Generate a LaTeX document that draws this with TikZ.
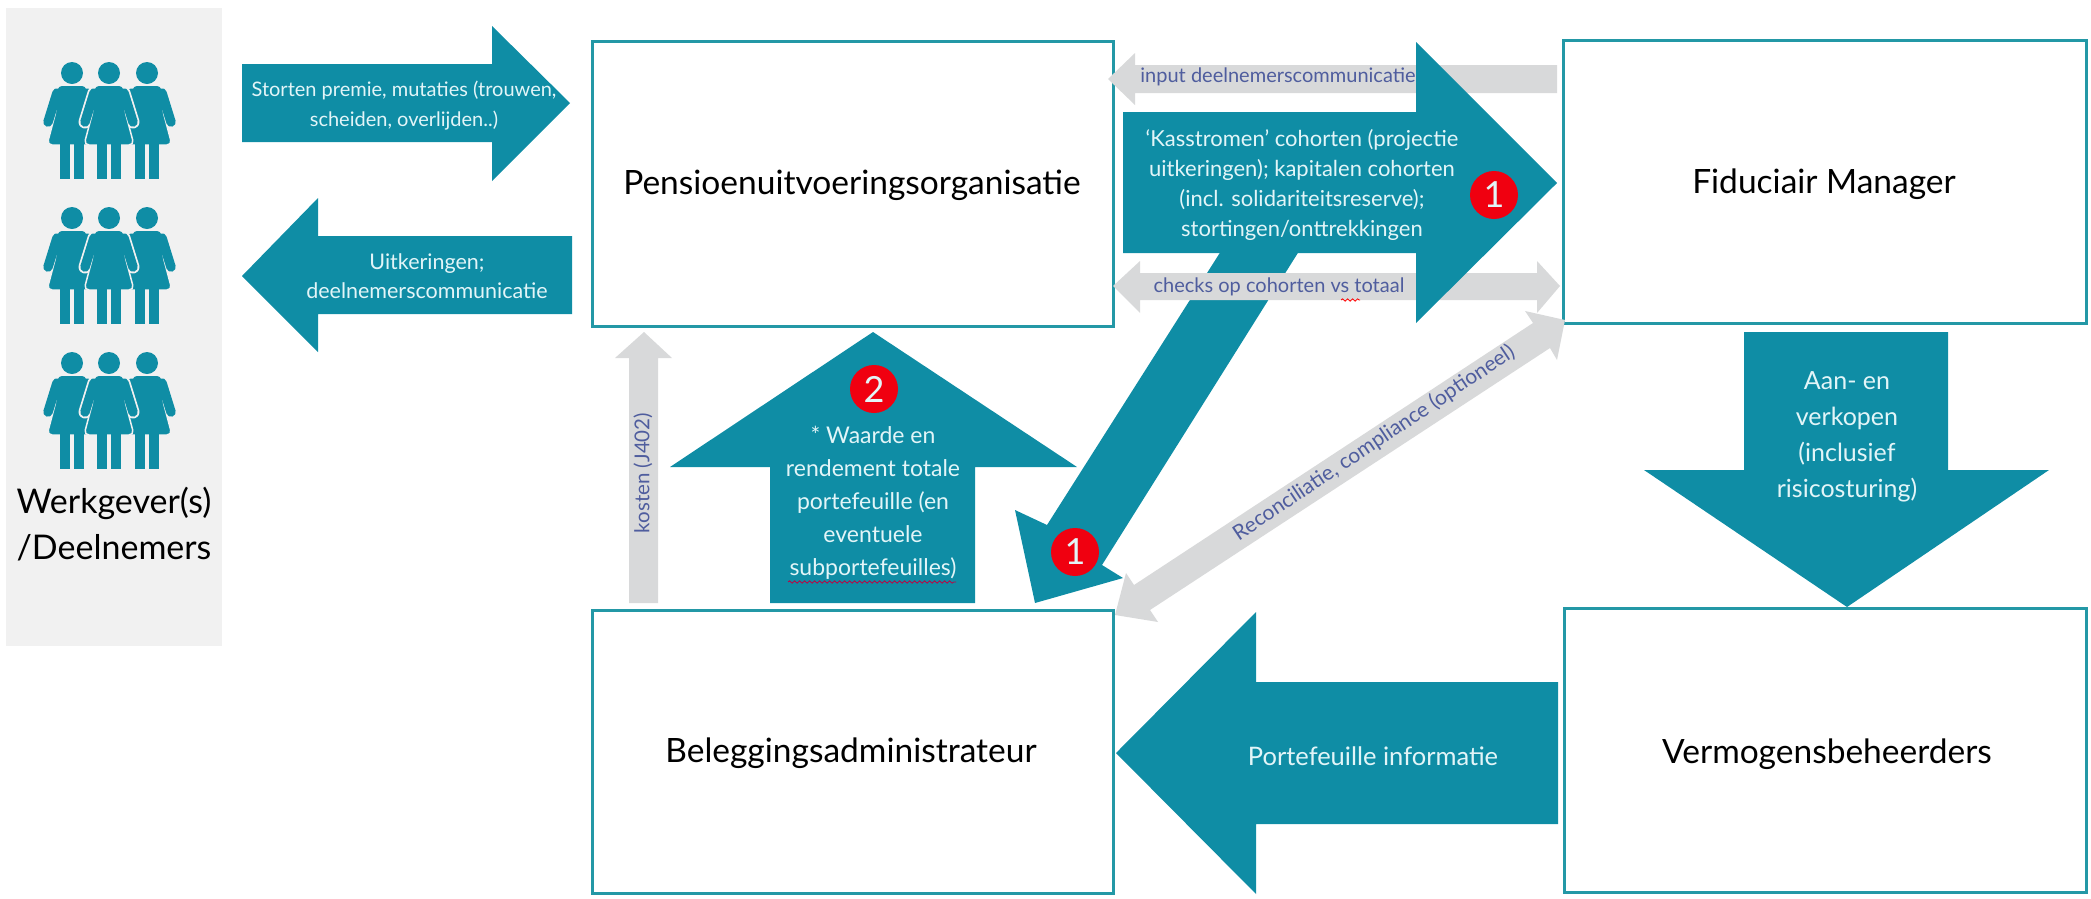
\documentclass[tikz,border=0pt]{standalone}
\usepackage{fontspec}
\setmainfont{Lato}
\usetikzlibrary{decorations.pathmorphing}
\definecolor{tealfill}{HTML}{0F8DA5}
\definecolor{boxline}{HTML}{2398A6}
\definecolor{greyfill}{HTML}{D8D9DA}
\definecolor{panelgrey}{HTML}{F1F1F1}
\definecolor{labelblue}{HTML}{4F5D9E}
\definecolor{lighttext}{HTML}{E2F5F8}
\definecolor{badgered}{HTML}{F00010}
\newcommand{\fs}[2]{\fontsize{#1}{#2}\selectfont}
\tikzset{pics/person/.style={code={
    \draw [panelgrey,line width=13pt,line cap=round] (-15,20) -- (-24,49);
    \draw [panelgrey,line width=13pt,line cap=round] (15,20) -- (24,49);
    \fill [tealfill] (0,0) circle (11);
    \filldraw [fill=tealfill,draw=panelgrey,line width=1.5pt,rounded corners=5pt] (-15,12) -- (15,12) -- (16,38) -- (25,72) -- (-25,72) -- (-16,38) -- cycle;
    \draw [tealfill,line width=9.5pt,line cap=round] (-15,20) -- (-24,49);
    \draw [tealfill,line width=9.5pt,line cap=round] (15,20) -- (24,49);
    \fill [tealfill] (-12,71) rectangle (-2,106);
    \fill [tealfill] (2,71) rectangle (12,106);
}}}
\begin{document}
\begin{tikzpicture}[x=1pt,y=-1pt]
\tikzstyle{every node}+=[inner sep=0pt]
\tikzstyle{blockarrow}=[fill=tealfill]
\tikzstyle{greyarrow}=[fill=greyfill]
\tikzstyle{box}=[draw=boxline,line width=2.5pt,fill=white,anchor=north west]
\tikzstyle{boxtext}=[text=black,font=\fs{33.5}{38}]
\tikzstyle{arrowtext}=[text=lighttext,align=center]
\tikzstyle{greytext}=[text=labelblue,font=\fs{20}{22}]
\tikzstyle{badge}=[circle,fill=badgered,text=lighttext,minimum size=48pt,font=\fs{36}{36}]
\tikzstyle{squiggle}=[line width=0.8pt,decorate,decoration={snake,amplitude=1.2pt,segment length=5pt}]
\useasboundingbox (0,0) rectangle (2091,898);
% left panel
\fill [panelgrey] (6,8) rectangle (222,646);
\foreach \y in {73,218,363} {
    \pic at (72,\y) {person};
    \pic at (147,\y) {person};
    \pic at (109,\y) {person};
}
\node [text=black,align=center,font=\fs{34}{46}] (werkgever) at (114,524) {Werkgever(s)\\/Deelnemers};
% boxes
\node [box,minimum width=521pt,minimum height=285pt] (puo) at (591,40) {};
\node [box,minimum width=523pt,minimum height=283pt] (fm) at (1562,39) {};
\node [box,minimum width=521pt,minimum height=283pt] (ba) at (591,609) {};
\node [box,minimum width=522pt,minimum height=284pt] (vb) at (1563,607) {};
\node [boxtext] (puotext) at (852,185) {Pensioenuitvoeringsorganisatie};
\node [boxtext] (fmtext) at (1824,184) {Fiduciair Manager};
\node [boxtext] (batext) at (851,753) {Beleggingsadministrateur};
\node [boxtext] (vbtext) at (1827,754) {Vermogensbeheerders};
% arrows left
\fill [blockarrow] (242,64) -- (492,64) -- (492,26) -- (570,103) -- (492,181) -- (492,142) -- (242,142) -- cycle;
\fill [blockarrow] (572,236) -- (318,236) -- (318,198) -- (242,276) -- (318,352) -- (318,314) -- (572,314) -- cycle;
\node [arrowtext,font=\fs{20}{30}] (storten) at (404,106) {Storten premie, mutaties (trouwen,\\scheiden, overlijden..)};
\node [arrowtext,font=\fs{21.5}{29}] (uitkering) at (427,276) {Uitkeringen;\\deelnemerscommunicatie};
% grey arrows and big arrows
\fill [greyarrow] (1557,65) -- (1135,65) -- (1135,53) -- (1108,79) -- (1135,105) -- (1135,93) -- (1557,93) -- cycle;
\fill [blockarrow] (1228,240) -- (1306,240) -- (1102,565) -- (1123,578) -- (1035,603) -- (1015,510) -- (1047,525) -- cycle;
\fill [greyarrow] (1113,286) -- (1140,261) -- (1140,273) -- (1537,273) -- (1537,261) -- (1560,286) -- (1537,313) -- (1537,300) -- (1140,300) -- (1140,313) -- cycle;
\fill [blockarrow] (1123,112) -- (1416,112) -- (1416,42) -- (1557,183) -- (1416,323) -- (1416,253) -- (1123,253) -- cycle;
\fill [greyarrow] (1115,615) -- (1126,573) -- (1134,585) -- (1533,323) -- (1525,311) -- (1565,320) -- (1557,360) -- (1550,348) -- (1150,610) -- (1158,622) -- cycle;
\node [greytext] (input) at (1278,77) {input deelnemerscommunicatie};
\node [greytext] (checks) at (1279,287) {checks op cohorten vs totaal};
\draw [red,squiggle] (1341,300) -- (1360,300);
\node [greytext,font=\fs{21}{22},rotate=33.8] (recon) at (1374,443) {Reconciliatie, compliance (optioneel)};
\node [arrowtext,font=\fs{22}{30}] (kasstromen) at (1302,185) {‘Kasstromen’ cohorten (projectie\\uitkeringen); kapitalen cohorten\\(incl. solidariteitsreserve);\\stortingen/onttrekkingen};
\node [badge] (badgea) at (1494,195) {1};
% up arrows
\fill [greyarrow] (629,603) -- (629,358) -- (615,358) -- (644,332) -- (672,358) -- (658,358) -- (658,603) -- cycle;
\node [greytext,font=\fs{20.5}{22},rotate=90] (kosten) at (643,473) {kosten (J402)};
\fill [blockarrow] (770,603) -- (770,467) -- (670,467) -- (873,332) -- (1077,467) -- (975,467) -- (975,603) -- cycle;
\node [badge] (badgeb) at (874,389) {2};
\node [arrowtext,font=\fs{23}{33}] (waarde) at (873,503) {* Waarde en\\rendement totale\\portefeuille (en\\eventuele\\subportefeuilles)};
\draw [purple,squiggle] (788,582) -- (956,582);
\node [badge] (badgec) at (1075,552) {1};
% arrows right
\fill [blockarrow] (1744,332) -- (1948,332) -- (1948,470) -- (2049,470) -- (1847,607) -- (1644,470) -- (1744,470) -- cycle;
\node [arrowtext,font=\fs{25}{36}] (aanverkoop) at (1847,437) {Aan- en\\verkopen\\(inclusief\\risicosturing)};
\fill [blockarrow] (1558,682) -- (1256,682) -- (1256,612) -- (1116,753) -- (1256,894) -- (1256,824) -- (1558,824) -- cycle;
\node [arrowtext,font=\fs{25.5}{28}] (portefeuille) at (1373,756) {Portefeuille informatie};
\end{tikzpicture}
\end{document}
